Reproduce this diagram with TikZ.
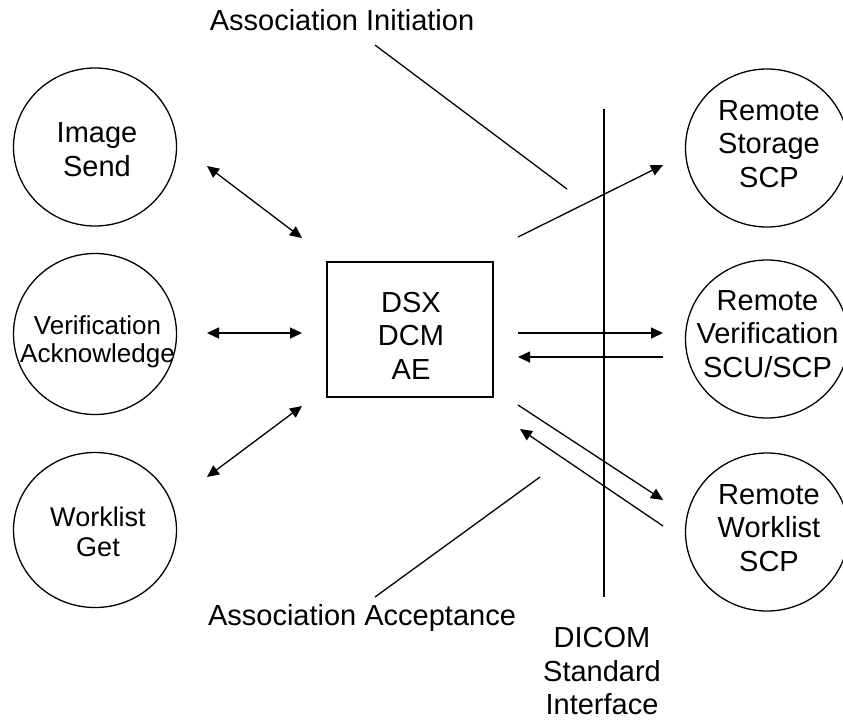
\documentclass[tikz,border=0pt]{standalone}
\usepackage{fontspec}
\setmainfont{Liberation Sans}
\usetikzlibrary{arrows.meta,shapes.geometric}
\begin{document}
\begin{tikzpicture}[x=1pt,y=-1pt,
  ell/.style={draw,ellipse,line width=1.3pt,minimum width=163pt,minimum height=158pt,inner sep=0pt},
  lbl/.style={align=center,inner sep=0pt,font=\fontsize{29}{33.5}\selectfont},
  lblsmall/.style={align=center,inner sep=0pt,font=\fontsize{26}{28}\selectfont},
  lblmid/.style={align=center,inner sep=0pt,font=\fontsize{27}{30}\selectfont},
  ln/.style={line width=1.3pt},
  tip/.style={line width=1.3pt,-{Triangle[length=12pt,width=11pt]}},
  dtip/.style={line width=1.3pt,{Triangle[length=12pt,width=11pt]}-{Triangle[length=12pt,width=11pt]}}]
\useasboundingbox (0,0) rectangle (843,721);
% left circles
\node[ell] (imgsend) at (95,147) {};
\node[lbl] (imgsendt) at (97,149.5) {Image\\Send};
\node[ell,minimum height=161pt] (verack) at (95,334) {};
\node[lblsmall] (veracktt) at (97.5,342) {Verification\\Acknowledge};
\node[ell,minimum height=155pt] (wlget) at (95,530) {};
\node[lblmid] (wlgett) at (98,532) {Worklist\\Get};
% right circles
\node[ell] (rstore) at (767,148) {};
\node[lbl] (rstoret) at (769,144) {Remote\\Storage\\SCP};
\node[ell] (rver) at (767,339) {};
\node[lbl] (rvert) at (767.5,334) {Remote\\Verification\\SCU/SCP};
\node[ell] (rwl) at (767,532) {};
\node[lbl] (rwlt) at (769,528) {Remote\\Worklist\\SCP};
% central box
\node[draw,line width=1.3pt,minimum width=166pt,minimum height=135pt,inner sep=0pt] (ae) at (410,329.5) {};
\node[lbl] (aet) at (411,335.5) {DSX\\DCM\\AE};
% labels
\node[lbl,anchor=base] (initt) at (342,30) {Association Initiation};
\node[lbl,anchor=base] (acct) at (362,625) {Association Acceptance};
\node[lbl] (dicomt) at (602,671.5) {DICOM\\Standard\\Interface};
% coordinates
\coordinate (vtop) at (604,109);
\coordinate (vbot) at (604,597);
\coordinate (i1) at (375,45);
\coordinate (i2) at (567,189);
\coordinate (a1) at (540,477);
\coordinate (a2) at (375,597);
\coordinate (l1a) at (207,166); \coordinate (l1b) at (302,238);
\coordinate (l2a) at (207,333); \coordinate (l2b) at (302,333);
\coordinate (l3a) at (302,406); \coordinate (l3b) at (207,477);
\coordinate (s1) at (518,237); \coordinate (s2) at (663,165);
\coordinate (v1) at (518,333); \coordinate (v2) at (663,333);
\coordinate (v3) at (663,357); \coordinate (v4) at (518,357);
\coordinate (w1) at (518,405); \coordinate (w2) at (663,500);
\coordinate (w3) at (663,526); \coordinate (w4) at (520,429);
% lines
\draw[ln] (vtop) -- (vbot);
\draw[ln] (i1) -- (i2);
\draw[ln] (a1) -- (a2);
\draw[dtip] (l1a) -- (l1b);
\draw[dtip] (l2a) -- (l2b);
\draw[dtip] (l3a) -- (l3b);
\draw[tip] (s1) -- (s2);
\draw[tip] (v1) -- (v2);
\draw[tip] (v3) -- (v4);
\draw[tip] (w1) -- (w2);
\draw[tip] (w3) -- (w4);
\end{tikzpicture}
\end{document}
